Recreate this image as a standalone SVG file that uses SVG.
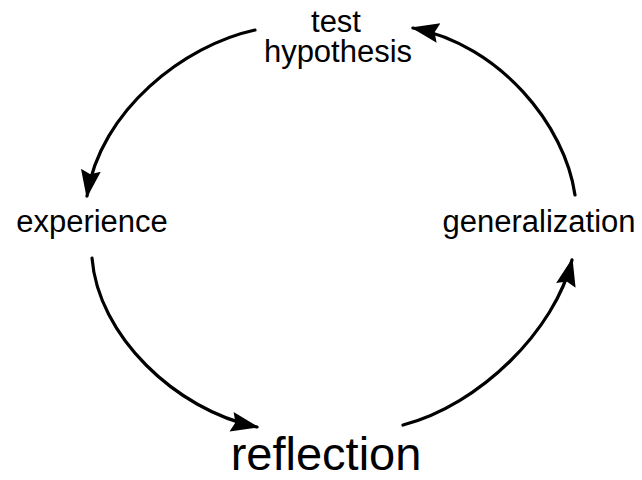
<svg xmlns="http://www.w3.org/2000/svg" width="642" height="480" viewBox="0 0 642 480">
  <style>
    .lbl { font-family: "Liberation Sans", Arial, sans-serif; fill: #000; text-anchor: middle; }
    .small { font-size: 31px; }
    .big { font-size: 47px; }
    .arc { fill: none; stroke: #000; stroke-width: 3.2; stroke-linecap: round; }
  </style>
  <defs>
    <marker id="ah" markerUnits="userSpaceOnUse" viewBox="0 0 28 22" markerWidth="28" markerHeight="22" refX="26" refY="11" orient="auto">
      <path d="M0,1 L28,11 L0,21 L4,11 z" fill="#000"/>
    </marker>
  </defs>
  <rect width="642" height="480" fill="#fff"/>
  <g id="connectors">
    <path class="arc" d="M255,30 C185,45 100,110 87,196" marker-end="url(#ah)"/>
    <path class="arc" d="M92,258 C98,335 175,410 257,427" marker-end="url(#ah)"/>
    <path class="arc" d="M403,425 C480,405 555,330 572,260" marker-end="url(#ah)"/>
    <path class="arc" d="M575,195 C565,125 500,45 413,28" marker-end="url(#ah)"/>
  </g>
  <g id="test-hypothesis">
    <text class="lbl small" x="336" y="32">test</text>
    <text class="lbl small" x="338" y="62">hypothesis</text>
  </g>
  <g id="experience">
    <text class="lbl small" x="92" y="232">experience</text>
  </g>
  <g id="generalization">
    <text class="lbl small" x="539" y="232">generalization</text>
  </g>
  <g id="reflection">
    <text class="lbl big" x="326" y="470">reflection</text>
  </g>
</svg>
